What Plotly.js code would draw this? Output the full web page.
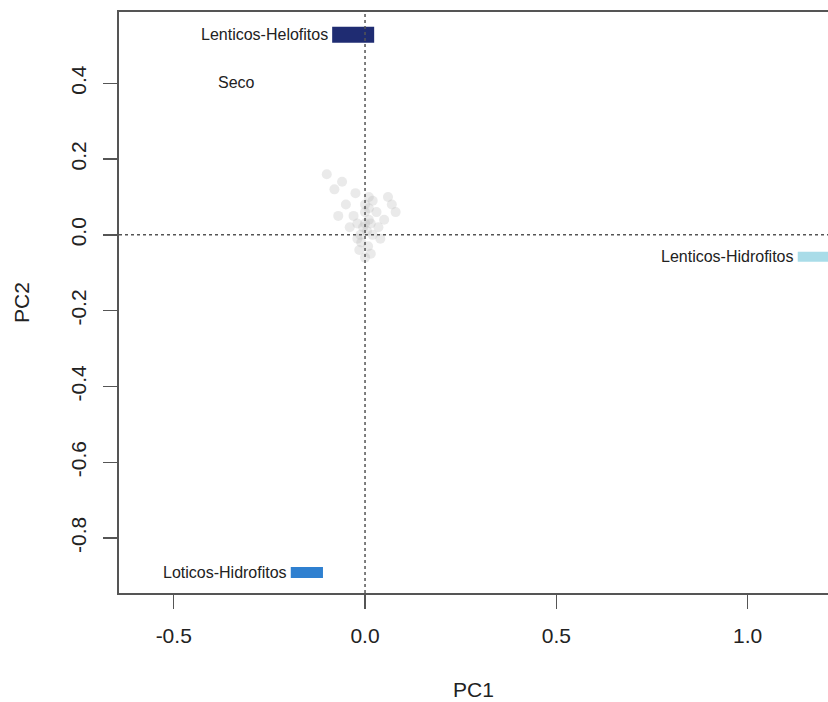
<!DOCTYPE html>
<html>
<head>
<meta charset="utf-8">
<script src="https://cdn.plot.ly/plotly-3.0.1.min.js"></script>
<style>html,body{margin:0;padding:0;background:#fff;}#chart{width:828px;height:702px;}</style>
</head>
<body>
<div id="chart"></div>
<script>
// Group (individual) scores on PC1 / PC2
var groupNames = ["Lenticos-Helofitos", "Lenticos-Hidrofitos", "Loticos-Hidrofitos"];
var groupPC1 = [-0.031, 1.184, -0.152];
var groupPC2 = [0.528, -0.058, -0.891];
var groupColors = ["#1f2c72", "#a9dce8", "#2f80d0"];

// Supplementary label
var extraNames = ["Seco"];
var extraPC1 = [-0.337];
var extraPC2 = [0.401];

// Faint variable loadings clustered near the origin
var varPC1 = [-0.03, 0.0, 0.02, -0.01, 0.03, -0.05, 0.01, -0.08, 0.05, -0.02, 0.0, 0.02,
              -0.04, 0.04, -0.1, -0.06, 0.07, 0.08, -0.015, 0.015, -0.025, 0.035, -0.07, 0.06,
              0.005, -0.005, 0.01, -0.012, 0.008, 0.0, 0.015, -0.02, 0.0, 0.01];
var varPC2 = [0.05, 0.03, 0.0, -0.02, 0.06, 0.08, 0.1, 0.12, 0.04, -0.01, 0.06, 0.09,
              0.02, -0.01, 0.16, 0.14, 0.08, 0.06, -0.04, -0.05, 0.11, 0.02, 0.05, 0.1,
              0.01, 0.02, 0.04, 0.0, -0.03, -0.06, 0.03, 0.03, 0.08, 0.07];

// tick labels
var xTickVals = [-0.5, 0.0, 0.5, 1.0];
var xTickText = ["-0.5", "0.0", "0.5", "1.0"];
var yTickVals = [-0.8, -0.6, -0.4, -0.2, 0.0, 0.2, 0.4];
var yTickText = ["-0.8", "-0.6", "-0.4", "-0.2", "0.0", "0.2", "0.4"];

// style (box sizes in px: length marker size, thickness)
var boxSize = [30, 29, 23];
var boxThick = [16, 10, 11];
var boxHalfPx = [21, 20, 16];

var FONT = "Liberation Sans, Arial, sans-serif";

var traces = [];
traces.push({
  x: varPC1, y: varPC2, mode: "markers", type: "scatter",
  marker: {color: "rgba(185,185,185,0.3)", size: 10, symbol: "circle"},
  hoverinfo: "skip", showlegend: false, cliponaxis: true
});
groupNames.forEach(function(name, i) {
  traces.push({
    x: [groupPC1[i]], y: [groupPC2[i]], mode: "markers", type: "scatter",
    name: name,
    marker: {symbol: "line-ew-open", size: boxSize[i], color: groupColors[i],
             line: {width: boxThick[i], color: groupColors[i]}},
    showlegend: false, cliponaxis: true
  });
});

var annotations = groupNames.map(function(name, i) {
  return {x: groupPC1[i], y: groupPC2[i], xref: "x", yref: "y", text: name,
          showarrow: false, xanchor: "right", yanchor: "middle",
          xshift: -(boxHalfPx[i] + 2), font: {family: FONT, size: 16, color: "#222"}};
});
extraNames.forEach(function(name, i) {
  annotations.push({x: extraPC1[i], y: extraPC2[i], xref: "x", yref: "y", text: name,
    showarrow: false, xanchor: "center", yanchor: "middle",
    font: {family: FONT, size: 16, color: "#222"}});
});

var layout = {
  width: 828, height: 702,
  margin: {l: 119, r: 0, t: 12, b: 109},
  paper_bgcolor: "#fff", plot_bgcolor: "#fff",
  showlegend: false,
  font: {family: FONT, color: "#222"},
  xaxis: {
    range: [-0.643, 1.210], showgrid: false, zeroline: false,
    showline: true, linecolor: "#555", linewidth: 2, mirror: true,
    ticks: "outside", ticklen: 14, tickwidth: 1.5, tickcolor: "#555",
    tickvals: xTickVals, ticktext: xTickText, ticklabelstandoff: 9,
    tickfont: {family: FONT, size: 21, color: "#222"},
    title: {text: "PC1", font: {family: FONT, size: 21, color: "#222"}, standoff: 36},
    automargin: false
  },
  yaxis: {
    range: [-0.945, 0.588], showgrid: false, zeroline: false,
    showline: true, linecolor: "#555", linewidth: 2, mirror: false,
    ticks: "outside", ticklen: 14, tickwidth: 1.5, tickcolor: "#555",
    tickvals: yTickVals, ticktext: yTickText, tickangle: -90, ticklabelstandoff: 9,
    tickfont: {family: FONT, size: 21, color: "#222"},
    title: {text: "PC2", font: {family: FONT, size: 21, color: "#222"}, standoff: 31},
    automargin: false
  },
  shapes: [
    {type: "line", xref: "x", yref: "paper", x0: 0, x1: 0, y0: 0, y1: 1,
     line: {color: "#555", width: 1.5, dash: "dot"}},
    {type: "line", xref: "paper", yref: "y", x0: 0, x1: 1, y0: 0, y1: 0,
     line: {color: "#555", width: 1.5, dash: "dot"}}
  ],
  annotations: annotations
};

Plotly.newPlot("chart", traces, layout, {displayModeBar: false, staticPlot: true});
</script>
</body>
</html>
